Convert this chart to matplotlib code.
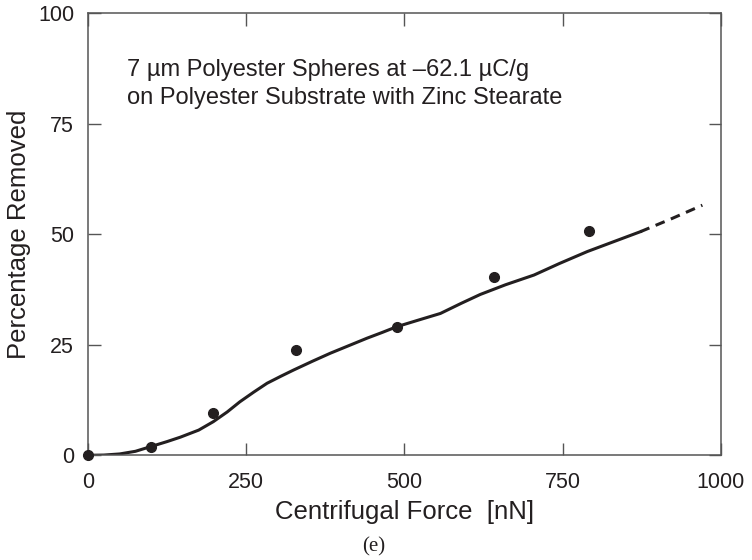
import numpy as np
import matplotlib.pyplot as plt

plt.rcParams['font.family'] = ['Liberation Sans', 'DejaVu Sans']

# measured points
force_pts = [0, 100, 198, 328, 488, 642, 792]
removed_pts = [0, 1.8, 9.6, 23.9, 29.1, 40.4, 50.7]

# fitted curve (solid part)
curve_x = [0, 25, 50, 75, 100, 125, 146, 175, 198, 220, 240, 262, 283, 305,
           325, 355, 383, 412, 441, 465, 488, 520, 557, 590, 620, 660, 705,
           745, 789, 830, 873]
curve_y = [0, 0.05, 0.3, 0.9, 2.0, 3.1, 4.1, 5.7, 7.6, 9.8, 12.1, 14.3, 16.3,
           17.9, 19.3, 21.3, 23.1, 24.8, 26.5, 27.8, 29.1, 30.5, 32.1, 34.4,
           36.4, 38.6, 40.8, 43.4, 46.1, 48.3, 50.6]
# extrapolated part (dashed)
ext_x = [873, 920, 971]
ext_y = [50.6, 53.4, 56.6]

note_lines = ['7 \u00b5m Polyester Spheres at \u201362.1 \u00b5C/g',
              'on Polyester Substrate with Zinc Stearate']

ink = '#231f20'

fig = plt.figure(figsize=(7.52, 5.60), dpi=100)
ax = fig.add_axes([0.117, 0.187, 0.8414, 0.789])

ax.plot(curve_x, curve_y, color=ink, lw=2.2, solid_joinstyle='round')
ax.plot(ext_x, ext_y, color=ink, lw=2.2, ls=(0, (3.2, 2.2)))
ax.plot(force_pts, removed_pts, 'o', color=ink, ms=7, clip_on=False, zorder=5)

ax.set_xlim(0, 1000)
ax.set_ylim(0, 100)
ax.set_xticks([0, 250, 500, 750, 1000])
ax.set_yticks([0, 25, 50, 75, 100])
ax.tick_params(direction='in', length=9, width=1, color='#555555',
               top=True, right=True, labelsize=15.5, colors=ink)
ax.tick_params(axis='x', pad=12)
ax.tick_params(axis='y', pad=10)
for s in ax.spines.values():
    s.set_color('#555555')
    s.set_linewidth(1.1)

ax.set_xlabel('Centrifugal Force  [nN]', fontsize=18.5, color=ink, labelpad=5)
ax.set_ylabel('Percentage Removed', fontsize=18.5, color=ink, labelpad=5)

ax.text(62, 85.8, note_lines[0], fontsize=17, color=ink, va='baseline', ha='left')
ax.text(62, 79.4, note_lines[1], fontsize=17, color=ink, va='baseline', ha='left')

fig.text(0.497, 0.023, '(e)', fontsize=15, family='Liberation Serif',
         ha='center', va='center', color=ink)

plt.savefig('out.png', dpi=100)
plt.close()
